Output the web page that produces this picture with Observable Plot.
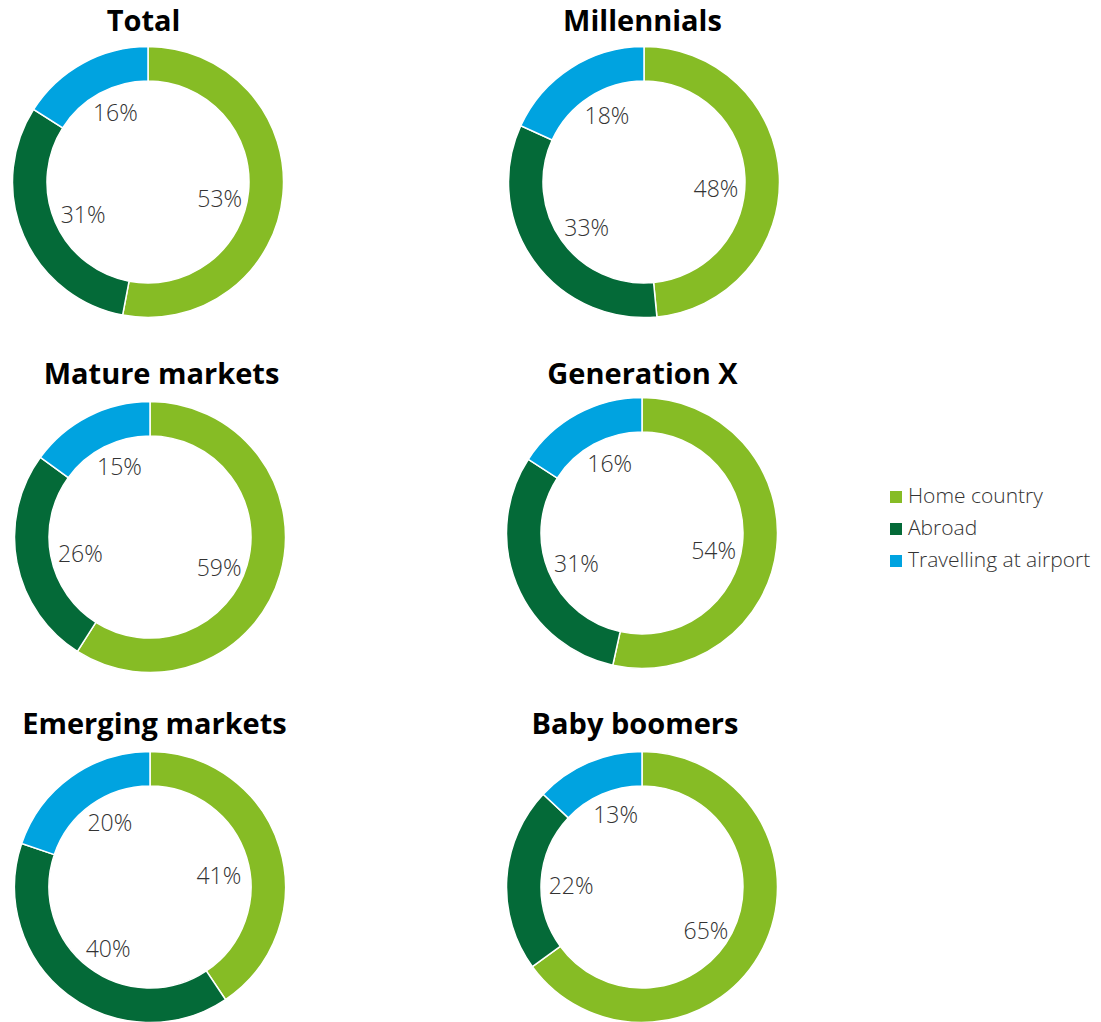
<!DOCTYPE html>
<html>
<head>
<meta charset="utf-8">
<script src="https://cdn.jsdelivr.net/npm/d3@7"></script>
<script src="https://cdn.jsdelivr.net/npm/@observablehq/plot@0.6"></script>
<style>
  body { margin: 0; background: #fff; font-family: "Open Sans", sans-serif; }
  #root { position: relative; width: 1101px; height: 1022px; overflow: hidden; }
  .title { position: absolute; width: 400px; text-align: center; font-weight: 700; font-size: 29px; line-height: 29px; color: #000; white-space: nowrap; }
  .chart { position: absolute; }
  .lrow { position: absolute; left: 890px; height: 32px; line-height: 32px; font-size: 21px; font-weight: 300; color: #333; white-space: nowrap; }
  .lrow .sw { position: absolute; left: 0; top: 12px; width: 12px; height: 12px; }
  .lrow .lt { position: absolute; left: 18px; top: 0; }
</style>
</head>
<body>
<div id="root"></div>
<script>
// ---- data ----
const categories = ["Home country", "Abroad", "Travelling at airport"];
const colors = ["#86BC25", "#046A38", "#00A3E0"];
const panels = ["Total", "Millennials", "Mature markets", "Generation X", "Emerging markets", "Baby boomers"];
const homeCountry = [53, 48, 59, 54, 41, 65];
const abroad      = [31, 33, 26, 31, 40, 22];
const travelling  = [16, 18, 15, 16, 20, 13];

// ---- layout (pixel placement of each panel) ----
const layout = [
  {cx: 148.3, cy: 182.3, tx: 143.5, ty: 5},
  {cx: 643.8, cy: 182.0, tx: 642.5, ty: 5},
  {cx: 149.5, cy: 537.2, tx: 161.5, ty: 357.6},
  {cx: 642.0, cy: 533.0, tx: 642.5, ty: 357.6},
  {cx: 149.5, cy: 887.2, tx: 154.5, ty: 707.6},
  {cx: 642.0, cy: 887.2, tx: 635.0, ty: 707.6}
];
const R_OUT = 135.5, R_IN = 101, R_LABEL = 74;
const SIZE = 300;
// small label nudges (style), per category: [dx, dy]
const labelNudge = [[-2, 10], [3, 3], [3, -4]];

function arcRender(index, scales, values, dimensions) {
  const cx = dimensions.width / 2, cy = dimensions.height / 2;
  const arc = d3.arc().innerRadius(R_IN).outerRadius(R_OUT);
  const g = d3.create("svg:g").attr("transform", `translate(${cx},${cy})`);
  for (const i of index) {
    g.append("path")
      .attr("d", arc({startAngle: values.x1[i], endAngle: values.x2[i]}))
      .attr("fill", values.fill[i])
      .attr("stroke", "#fff")
      .attr("stroke-width", 1.5);
  }
  return g.node();
}

function labelRender(index, scales, values, dimensions) {
  const cx = dimensions.width / 2, cy = dimensions.height / 2;
  const g = d3.create("svg:g").attr("transform", `translate(${cx},${cy})`);
  for (const i of index) {
    const a = values.x[i];
    const n = labelNudge[i % labelNudge.length];
    g.append("text")
      .attr("x", R_LABEL * Math.sin(a) + n[0])
      .attr("y", -R_LABEL * Math.cos(a) + n[1])
      .attr("dy", "0.36em")
      .attr("text-anchor", "middle")
      .attr("font-family", "'Open Sans', sans-serif")
      .attr("font-weight", 300)
      .attr("font-size", 23)
      .attr("fill", "#333333")
      .text(values.text[i]);
  }
  return g.node();
}

const root = document.getElementById("root");

panels.forEach((name, p) => {
  const vals = [homeCountry[p], abroad[p], travelling[p]];
  const rows = categories.map((c, k) => ({category: c, value: vals[k]}));
  const L = layout[p];

  const chart = Plot.plot({
    width: SIZE,
    height: SIZE,
    margin: 0,
    style: {background: "transparent", overflow: "visible"},
    x: {domain: [0, 1], range: [0, 2 * Math.PI], axis: null},
    color: {domain: categories, range: colors},
    marks: [
      Plot.barX(rows, Plot.stackX({x: "value", fill: "category", offset: "normalize", render: arcRender})),
      Plot.text(rows, Plot.stackX({x: "value", offset: "normalize", text: d => d.value + "%", render: labelRender}))
    ]
  });
  const holder = document.createElement("div");
  holder.className = "chart";
  holder.style.left = (L.cx - SIZE / 2) + "px";
  holder.style.top = (L.cy - SIZE / 2) + "px";
  holder.appendChild(chart);
  root.appendChild(holder);

  const t = document.createElement("div");
  t.className = "title";
  t.textContent = name;
  t.style.left = (L.tx - 200) + "px";
  t.style.top = L.ty + "px";
  root.appendChild(t);
});

// legend
const legendTop = 478.9, legendStep = 32;
categories.forEach((c, k) => {
  const row = document.createElement("div");
  row.className = "lrow";
  row.style.top = (legendTop + k * legendStep) + "px";
  const sw = document.createElement("span");
  sw.className = "sw";
  sw.style.background = colors[k];
  const lt = document.createElement("span");
  lt.className = "lt";
  lt.textContent = c;
  row.appendChild(sw);
  row.appendChild(lt);
  root.appendChild(row);
});
</script>
</body>
</html>
